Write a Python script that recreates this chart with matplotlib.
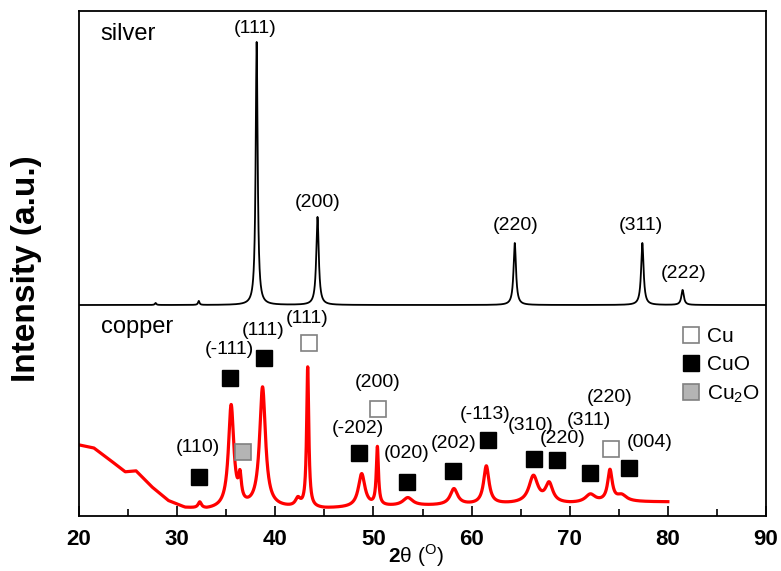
import numpy as np
import matplotlib
matplotlib.use('Agg')
import matplotlib.pyplot as plt
from matplotlib.lines import Line2D
from matplotlib.ticker import MultipleLocator

plt.rcParams['font.family'] = ['Liberation Sans', 'DejaVu Sans']
plt.rcParams['mathtext.fontset'] = 'custom'
plt.rcParams['mathtext.rm'] = 'Liberation Sans'
plt.rcParams['mathtext.bf'] = 'Liberation Sans:bold'

# silver pattern: flat baseline + peaks (position, height, half width)
silver_base = 211
silver_pos = [27.8, 32.2, 38.1, 44.3, 64.4, 77.4, 81.5]
silver_height = [2, 4, 263, 88, 62, 62, 15]
silver_hwhm = [0.09, 0.09, 0.12, 0.15, 0.15, 0.15, 0.15]

# copper pattern: background points + peaks
copper_bg_x = [20, 21.5, 23, 24.7, 25.8, 27.4, 29.1, 30.8, 33, 35, 40, 45, 50, 55, 60, 65, 70, 75, 80]
copper_bg_y = [71, 68, 57, 44, 45, 29, 15, 8, 6, 7, 8, 7, 9, 10, 11, 12, 12, 14, 14]
copper_pos = [32.3, 35.5, 36.4, 38.7, 42.3, 43.3, 48.8, 50.4, 53.5, 58.2, 61.5, 66.3, 67.9, 72.1, 74.1, 75.3]
copper_height = [6, 102, 24, 120, 8, 140, 33, 58, 8, 16, 38, 27, 19, 8, 31, 6]
copper_hwhm = [0.2, 0.33, 0.17, 0.36, 0.3, 0.13, 0.4, 0.13, 0.6, 0.45, 0.33, 0.55, 0.45, 0.6, 0.28, 0.6]

# silver reflections
silver_labels = ['(111)', '(200)', '(220)', '(311)', '(222)']
silver_lab_x = [37.9, 44.3, 64.5, 77.3, 81.6]
silver_lab_y = [488, 314, 291, 291, 243]

# copper phase markers
cu_x, cu_y = [43.4, 50.5, 74.2], [173, 107, 67]
cuo_x = [32.2, 35.4, 38.8, 48.5, 53.4, 58.1, 61.7, 66.4, 68.7, 72.1, 76.0]
cuo_y = [39, 138, 158, 63, 34, 45, 76, 57, 56, 43, 48]
cu2o_x, cu2o_y = [36.7], [64]

copper_labels = ['(110)', '(-111)', '(111)', '(111)', '(200)', '(-202)', '(020)', '(202)',
                 '(-113)', '(310)', '(220)', '(311)', '(220)', '(004)']
copper_lab_x = [32.1, 35.3, 38.8, 43.2, 50.4, 48.4, 53.4, 58.2, 61.4, 66.0, 69.3, 72.0, 74.1, 78.1]
copper_lab_y = [69, 167, 186, 198, 134, 88, 63, 73, 102, 91, 78, 96, 119, 74]


def pattern(x, pos, height, hwhm):
    y = np.zeros_like(x)
    for p, h, w in zip(pos, height, hwhm):
        y += h / (1 + ((x - p) / w) ** 2)
    return y


x_ag = np.arange(20, 90.001, 0.01)
y_ag = silver_base + pattern(x_ag, silver_pos, silver_height, silver_hwhm)

x_cu = np.arange(20, 80.001, 0.01)
y_cu = np.interp(x_cu, copper_bg_x, copper_bg_y) + pattern(x_cu, copper_pos, copper_height, copper_hwhm)

fig = plt.figure(figsize=(7.81, 5.71), dpi=100)
ax = fig.add_axes([0.1012, 0.0963, 0.8796, 0.8844])

ax.plot(x_ag, y_ag, color='black', lw=1.3)
ax.plot(x_cu, y_cu, color='red', lw=2.3)

ms = 12
ax.plot(cu_x, cu_y, 's', ms=ms, mfc='white', mec='#808080', mew=1.2, ls='none')
ax.plot(cuo_x, cuo_y, 's', ms=ms, mfc='black', mec='black', ls='none')
ax.plot(cu2o_x, cu2o_y, 's', ms=ms, mfc='#b4b4b4', mec='#808080', mew=1.2, ls='none')

for t, xx, yy in zip(silver_labels, silver_lab_x, silver_lab_y):
    ax.text(xx, yy, t, fontsize=14, ha='center', va='center')
for t, xx, yy in zip(copper_labels, copper_lab_x, copper_lab_y):
    ax.text(xx, yy, t, fontsize=14, ha='center', va='center')

ax.text(22.2, 482, 'silver', fontsize=17, va='center')
ax.text(22.2, 189, 'copper', fontsize=17, va='center')

handles = [
    Line2D([], [], marker='s', ls='none', ms=ms, mfc='white', mec='#808080', mew=1.2),
    Line2D([], [], marker='s', ls='none', ms=ms, mfc='black', mec='black'),
    Line2D([], [], marker='s', ls='none', ms=ms, mfc='#b4b4b4', mec='#808080', mew=1.2),
]
ax.legend(handles, ['Cu', 'CuO', r'Cu$_2$O'], loc='upper left', bbox_to_anchor=(0.866, 0.391),
          frameon=False, fontsize=15, handlelength=0.8, handletextpad=0.4, labelspacing=0.45,
          borderaxespad=0)

ax.set_xlim(20, 90)
ax.set_ylim(0, 505)
ax.set_yticks([])
ax.xaxis.set_major_locator(MultipleLocator(10))
ax.xaxis.set_minor_locator(MultipleLocator(5))
ax.tick_params(axis='x', which='major', direction='in', length=7, width=1.2, labelsize=16, pad=9)
ax.tick_params(axis='x', which='minor', direction='in', length=5, width=1.2)
for lab in ax.get_xticklabels():
    lab.set_fontweight('bold')
for s in ax.spines.values():
    s.set_linewidth(1.3)

ax.set_xlabel(r'$\mathbf{2}\mathrm{θ}$ ($^{\rm O}$)', fontsize=15)
ax.xaxis.set_label_coords(0.49, -0.052)
ax.set_ylabel('Intensity (a.u.)', fontsize=24, fontweight='bold', va='center')
ax.yaxis.set_label_coords(-0.076, 0.49)

fig.savefig('out.png', dpi=100)
